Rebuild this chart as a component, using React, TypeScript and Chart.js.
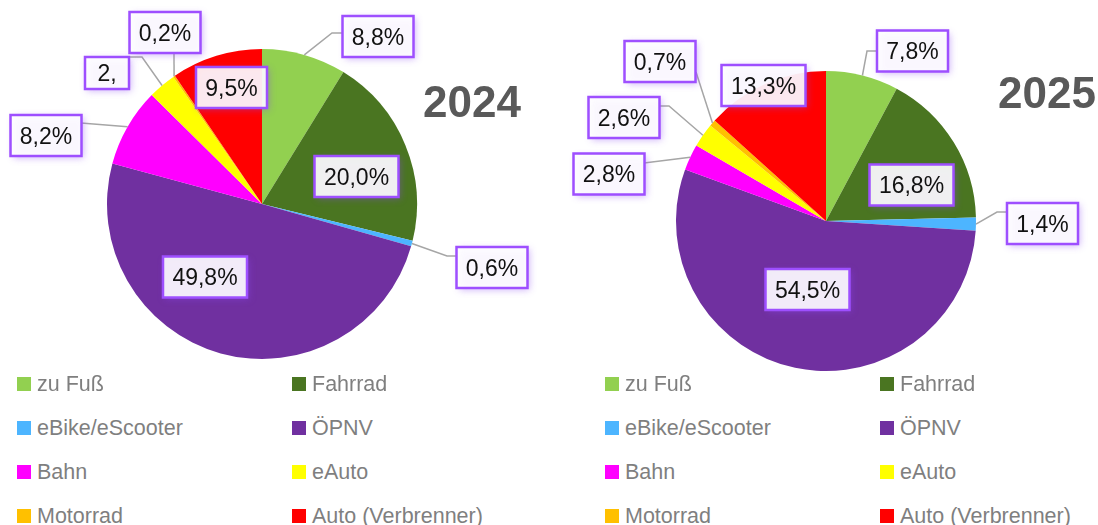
import React, { useEffect, useRef } from "react";
import { Chart, registerables } from "chart.js";

Chart.register(...registerables);

// ---------- data ----------
const categories = [
  "zu Fuß",
  "Fahrrad",
  "eBike/eScooter",
  "ÖPNV",
  "Bahn",
  "eAuto",
  "Motorrad",
  "Auto (Verbrenner)",
];
const sliceColors = [
  "#92D050",
  "#4A7521",
  "#4DB5FF",
  "#7030A0",
  "#FF00FF",
  "#FFFF00",
  "#FFC000",
  "#FF0000",
];
const values2024 = [8.8, 20.0, 0.6, 49.8, 8.2, 2.9, 0.2, 9.5];
const values2025 = [7.8, 16.8, 1.4, 54.5, 2.8, 2.6, 0.7, 13.3];
const labels2024 = ["8,8%", "20,0%", "0,6%", "49,8%", "8,2%", "2,", "0,2%", "9,5%"];
const labels2025 = ["7,8%", "16,8%", "1,4%", "54,5%", "2,8%", "2,6%", "0,7%", "13,3%"];
const titles = ["2024", "2025"];

// ---------- layout (label boxes relative to pie centre) ----------
type LabelPos = { dx: number; dy: number; path?: [number, number][]; w?: number; h?: number };

const layout2024: LabelPos[] = [
  { dx: 116, dy: -167.5, path: [[70, -171], [81, -171]] },
  { dx: 94.5, dy: -27.5 },
  { dx: 230, dy: 63.5, path: [[185, 52], [195, 52]] },
  { dx: -57, dy: 73 },
  { dx: -216, dy: -68.5, path: [[-181, -81]] },
  { dx: -155, dy: -131, path: [[-120, -147], [-133, -147]], w: 44, h: 32 },
  { dx: -97, dy: -171.5, path: [[-88, -151]] },
  { dx: -30.5, dy: -116.5 },
];
const layout2025: LabelPos[] = [
  { dx: 86.5, dy: -170, path: [[41, -170], [51, -170]] },
  { dx: 85.5, dy: -36 },
  { dx: 216.5, dy: 2.5, path: [[171, -9], [181, -9]] },
  { dx: -18.5, dy: 68.5 },
  { dx: -217, dy: -47, path: [[-182, -58]] },
  { dx: -202, dy: -103.5, path: [[-157, -115], [-167, -115]] },
  { dx: -166, dy: -159.5, path: [[-130, -149]] },
  { dx: -62.5, dy: -135.5 },
];

const FONT = '"Liberation Sans", Arial, sans-serif';

const boxLabelPlugin = {
  id: "boxLabels",
  afterDatasetsDraw(chart: any, _args: any, opts: any) {
    const { ctx } = chart;
    const meta = chart.getDatasetMeta(0);
    const layout: LabelPos[] = opts.layout;
    const texts: string[] = opts.texts;
    if (!layout) return;
    const arcs = meta.data.map((arc: any) =>
      arc.getProps(["x", "y", "startAngle", "endAngle", "outerRadius"], true)
    );
    // leader lines
    ctx.save();
    ctx.strokeStyle = "#A6A6A6";
    ctx.lineWidth = 1.5;
    arcs.forEach((p: any, i: number) => {
      const L = layout[i];
      if (!L || !L.path) return;
      const a = (p.startAngle + p.endAngle) / 2;
      ctx.beginPath();
      ctx.moveTo(p.x + p.outerRadius * Math.cos(a), p.y + p.outerRadius * Math.sin(a));
      L.path.forEach(([x, y]) => ctx.lineTo(p.x + x, p.y + y));
      ctx.stroke();
    });
    ctx.restore();
    // boxes
    ctx.save();
    ctx.font = `23px ${FONT}`;
    arcs.forEach((p: any, i: number) => {
      const L = layout[i];
      if (!L) return;
      const t = texts[i];
      const tw = ctx.measureText(t).width;
      const w = L.w ?? Math.round(tw + 19);
      const h = L.h ?? 41;
      const cx = p.x + L.dx;
      const cy = p.y + L.dy;
      const x0 = cx - w / 2;
      const y0 = cy - h / 2;
      ctx.save();
      ctx.shadowColor = "rgba(140,70,240,0.45)";
      ctx.shadowBlur = 7;
      ctx.shadowOffsetX = 2;
      ctx.shadowOffsetY = 2;
      ctx.fillStyle = "rgba(255,255,255,0.9)";
      ctx.fillRect(x0, y0, w, h);
      ctx.restore();
      ctx.strokeStyle = "#9E4FFF";
      ctx.lineWidth = 2.5;
      ctx.strokeRect(x0, y0, w, h);
      ctx.fillStyle = "#111111";
      ctx.textAlign = "center";
      ctx.textBaseline = "alphabetic";
      ctx.fillText(t, cx, cy + 8.2);
    });
    ctx.restore();
    // title
    if (opts.title) {
      ctx.save();
      ctx.font = `bold 44px ${FONT}`;
      ctx.fillStyle = "#595959";
      ctx.textAlign = "left";
      ctx.textBaseline = "alphabetic";
      ctx.fillText(opts.title, opts.titleX, opts.titleY);
      ctx.restore();
    }
  },
};

type PieProps = {
  values: number[];
  texts: string[];
  layout: LabelPos[];
  title: string;
  titleX: number;
  titleY: number;
  radius: number;
  padding: { left: number; right: number; top: number; bottom: number };
};

function PieCanvas(props: PieProps) {
  const ref = useRef<HTMLCanvasElement | null>(null);
  useEffect(() => {
    if (!ref.current) return;
    const chart = new Chart(ref.current, {
      type: "pie",
      data: {
        labels: categories,
        datasets: [
          {
            data: props.values,
            backgroundColor: sliceColors,
            borderWidth: 0,
            radius: props.radius,
          } as any,
        ],
      },
      options: {
        animation: false,
        responsive: false,
        devicePixelRatio: 1,
        radius: props.radius,
        layout: { padding: props.padding },
        events: [],
        plugins: {
          legend: { display: false },
          tooltip: { enabled: false },
          boxLabels: {
            layout: props.layout,
            texts: props.texts,
            title: props.title,
            titleX: props.titleX,
            titleY: props.titleY,
          },
        } as any,
      } as any,
      plugins: [boxLabelPlugin],
    });
    return () => chart.destroy();
  }, []);
  return <canvas ref={ref} width={549} height={380} style={{ display: "block" }} />;
}

function Legend({ left }: { left: number }) {
  const colX = [17, 292];
  const rowY = [384, 428, 472, 516];
  return (
    <>
      {categories.map((c, i) => {
        const row = Math.floor(i / 2);
        const col = i % 2;
        const x = left + colX[col];
        const y = rowY[row];
        return (
          <div
            key={c}
            style={{
              position: "absolute",
              left: x,
              top: y - 14,
              height: 28,
              display: "flex",
              alignItems: "center",
              whiteSpace: "nowrap",
            }}
          >
            <span
              style={{
                display: "inline-block",
                width: 14,
                height: 14,
                background: sliceColors[i],
                marginRight: 6,
              }}
            />
            <span
              style={{
                fontFamily: FONT,
                fontSize: 21.5,
                color: "#7F7F7F",
                lineHeight: "28px",
              }}
            >
              {c}
            </span>
          </div>
        );
      })}
    </>
  );
}

export default function App() {
  return (
    <div
      style={{
        position: "fixed",
        left: 0,
        top: 0,
        width: 1098,
        height: 525,
        background: "#ffffff",
        overflow: "hidden",
      }}
    >
      <div style={{ position: "absolute", left: 0, top: 0 }}>
        <PieCanvas
          values={values2024}
          texts={labels2024}
          layout={layout2024}
          title={titles[0]}
          titleX={423}
          titleY={117}
          radius={155}
          padding={{ left: 0, right: 25, top: 28, bottom: 0 }}
        />
      </div>
      <div style={{ position: "absolute", left: 549, top: 0 }}>
        <PieCanvas
          values={values2025}
          texts={labels2025}
          layout={layout2025}
          title={titles[1]}
          titleX={449}
          titleY={108}
          radius={150}
          padding={{ left: 5, right: 0, top: 62, bottom: 0 }}
        />
      </div>
      <Legend left={0} />
      <Legend left={588} />
    </div>
  );
}
